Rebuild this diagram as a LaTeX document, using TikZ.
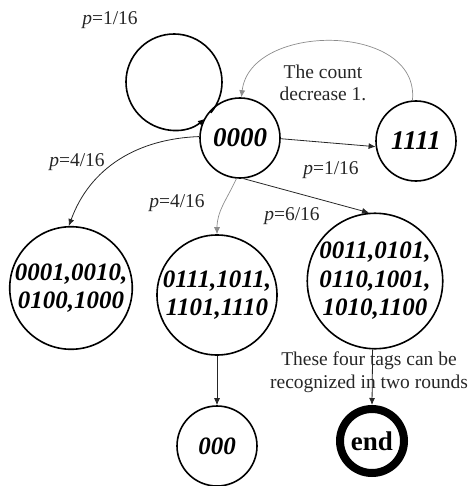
\documentclass[tikz,border=0pt]{standalone}
\usepackage{fontspec}
\setmainfont{Liberation Serif}
\usetikzlibrary{arrows.meta}
\begin{document}
\begin{tikzpicture}[x=1pt,y=1pt,
  state/.style={circle,draw=black,line width=1.6pt,inner sep=0pt,align=center},
  bigstate/.style={state,minimum size=120pt,font=\fontsize{25}{28.5}\selectfont\bfseries\itshape},
  smallstate/.style={state,minimum size=80pt,font=\fontsize{27}{30}\selectfont\bfseries\itshape},
  tip/.style={-{Latex[length=7pt,width=6pt]}},
  conn/.style={tip,line width=0.8pt,draw=black!85},
  lightconn/.style={tip,line width=0.7pt,draw=black!45},
  lbl/.style={font=\fontsize{19.5}{22}\selectfont,text=black!85,inner sep=0pt,align=center}]
\useasboundingbox (0,0) rectangle (470,-486);

% states
\node[smallstate] (z) at (240,-138) {0000};
\node[smallstate] (o) at (416,-141) {1111};
\node[bigstate] (a) at (71,-288) {0001,0010,\\0100,1000};
\node[bigstate] (b) at (217,-295) {0111,1011,\\1101,1110};
\node[bigstate] (c) at (375,-281) {0011,0101,\\0110,1001,\\1010,1100};
\node[state,minimum size=80pt,font=\fontsize{25}{28}\selectfont\bfseries\itshape] (t) at (217,-446) {000};
\node[circle,draw=black,line width=8pt,minimum size=64pt,inner sep=0pt,
      font=\fontsize{27}{30}\selectfont\bfseries] (e) at (372,-441) {end};

% labels
\node[lbl] (l0) at (110,-20) {\textit{p}=1/16};
\node[lbl] (l1) at (331,-170) {\textit{p}=1/16};
\node[lbl] (l2) at (77,-162) {\textit{p}=4/16};
\node[lbl] (l3) at (177,-203) {\textit{p}=4/16};
\node[lbl] (l4) at (292,-216) {\textit{p}=6/16};
\node[lbl] (cnt) at (323,-83) {The count\\decrease 1.};
\node[lbl,font=\fontsize{19.5}{23}\selectfont] (note) at (369,-372) {These four tags can be\\recognized in two rounds};

% self loop on 0000
\coordinate (lc) at (174,-82);
\draw[tip,line width=1.6pt] ([shift={(320:48)}]lc) arc[start angle=320,end angle=670,radius=48];

% transitions
\draw[lightconn] (o.95) .. controls (420,-22) and (250,-22) .. (z.88);
\draw[conn] (z.-1) -- (o.188);
\draw[conn] (z.178) to[out=182,in=70] (a.92);
\draw[lightconn] (z.265) to[out=245,in=90] (b.90);
\draw[conn] (z.275) -- (c.95);
\draw[conn] (b) -- (t);
\draw[conn] (c.-92) -- (e.90);
\end{tikzpicture}
\end{document}
